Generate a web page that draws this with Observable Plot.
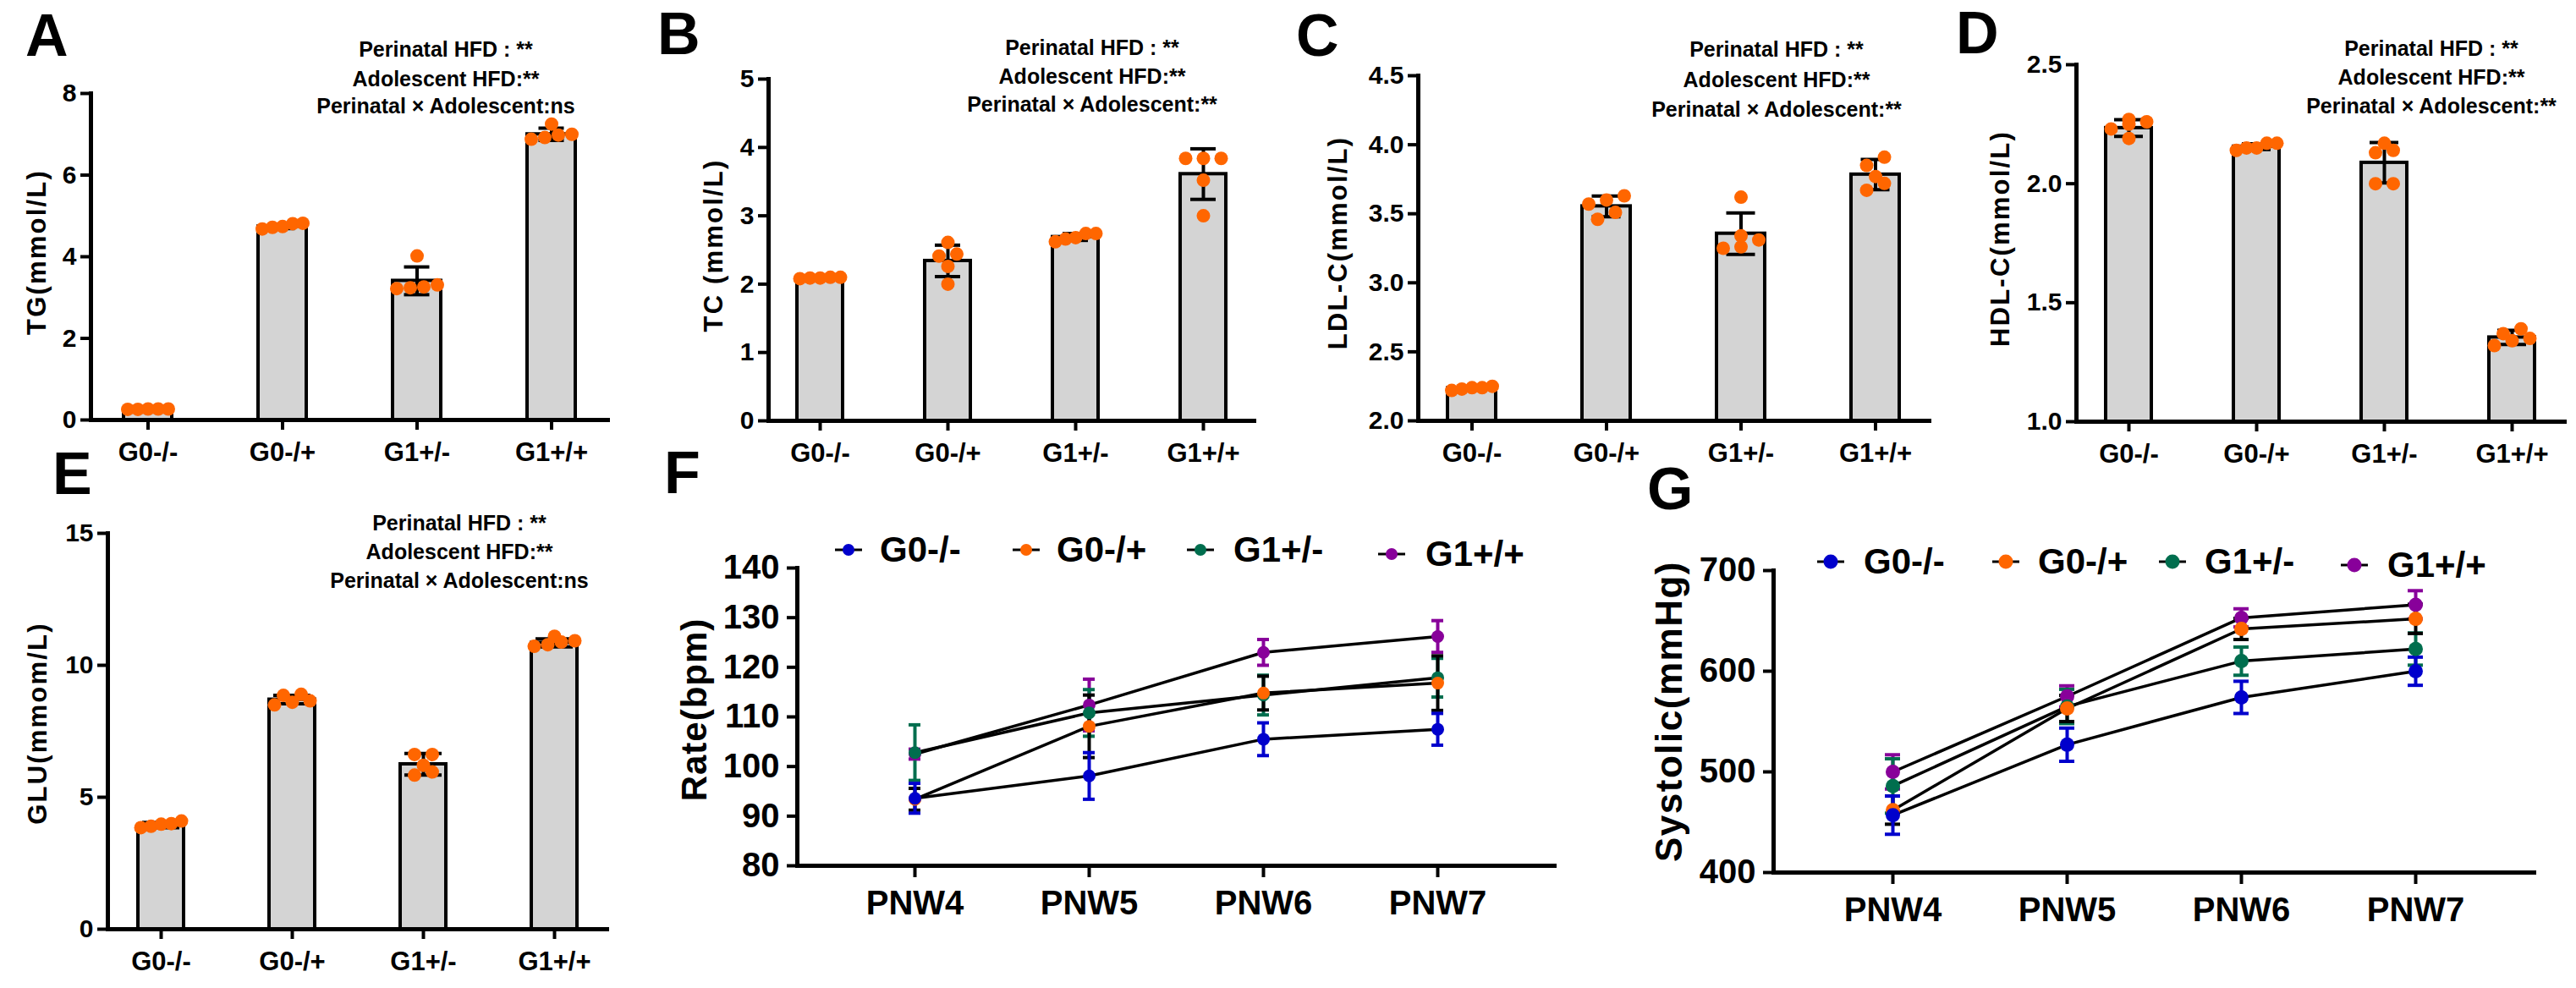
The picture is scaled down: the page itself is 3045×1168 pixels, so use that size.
<!DOCTYPE html>
<html><head><meta charset="utf-8">
<script src="https://cdn.jsdelivr.net/npm/d3@7"></script>
<script src="https://cdn.jsdelivr.net/npm/@observablehq/plot@0.6"></script>
<style>
body{margin:0;background:#fff}
#fig{position:relative;width:3045px;height:1168px;background:#fff;overflow:hidden;font-family:"Liberation Sans",Arial,Helvetica,sans-serif;font-weight:bold;color:#000}
#fig .t{position:absolute;line-height:1;white-space:nowrap}
#fig svg.p{position:absolute}
</style></head><body><div id="fig"></div>
<script>
// ---------- data ----------
const groups = ["G0-/-", "G0-/+", "G1+/-", "G1+/+"];

const tgMean = [0.26, 4.74, 3.41, 7.00];
const tgSD   = [0.01, 0.05, 0.34, 0.15];
const tgDots = [[0.27,0.26,0.27,0.27,0.26],[4.72,4.82,4.74,4.81,4.68],[4.02,3.22,3.31,3.24,3.26],[7.25,7.00,6.92,6.98,6.88]];

const tcMean = [2.09, 2.34, 2.69, 3.61];
const tcSD   = [0.01, 0.23, 0.05, 0.37];
const tcDots = [[2.10,2.09,2.10,2.09,2.08],[2.61,2.44,2.41,2.26,2.00],[2.74,2.68,2.74,2.66,2.62],[3.84,3.84,3.84,3.52,3.00]];

const ldlMean = [2.236, 3.554, 3.356, 3.784];
const ldlSD   = [0.01, 0.075, 0.15, 0.11];
const ldlDots = [[2.23,2.25,2.24,2.24,2.22],[3.60,3.46,3.57,3.63,3.51],[3.62,3.25,3.34,3.26,3.31],[3.91,3.67,3.77,3.85,3.72]];

const hdlMean = [2.234, 2.156, 2.088, 1.354];
const hdlSD   = [0.035, 0.012, 0.085, 0.03];
const hdlDots = [[2.26,2.19,2.27,2.23,2.25],[2.15,2.17,2.15,2.17,2.14],[2.14,2.00,2.17,2.13,2.00],[1.39,1.32,1.37,1.34,1.35]];

const gluMean = [3.95, 8.70, 6.25, 10.85];
const gluSD   = [0.10, 0.16, 0.41, 0.15];
const gluDots = [[3.98,4.10,3.90,4.00,3.85],[8.65,8.90,8.60,8.86,8.50],[6.62,5.84,6.21,6.62,5.96],[10.88,11.10,10.78,10.93,10.72]];

const weeks = ["PNW4", "PNW5", "PNW6", "PNW7"];
const rate_G0mm = [93.6, 98.1, 105.5, 107.5];  const rateSD_G0mm = [3.0, 4.7, 3.3, 3.2];
const rate_G0mp = [93.4, 108.1, 114.8, 116.8]; const rateSD_G0mp = [2.2, 6.3, 3.4, 5.5];
const rate_G1pm = [102.8, 110.8, 114.4, 117.9]; const rateSD_G1pm = [5.6, 4.7, 4.0, 3.9];
const rate_G1pp = [102.5, 112.4, 123.0, 126.2]; const rateSD_G1pp = [1.0, 5.2, 2.6, 3.2];

const sys_G0mm = [457, 527, 574, 600]; const sysSD_G0mm = [19, 16.5, 16, 14];
const sys_G0mp = [462, 563, 642, 652]; const sysSD_G0mp = [14, 13, 10.5, 14.5];
const sys_G1pm = [486, 565, 610, 622]; const sysSD_G1pm = [27, 17, 14, 16];
const sys_G1pp = [500, 575, 653, 666]; const sysSD_G1pp = [17, 10.5, 9, 14];

const seriesColors = ["#0000cc", "#ff6600", "#006e4e", "#88009a"];
const errColors    = ["#0000cc", "#000000", "#006e4e", "#88009a"];

const annot1 = "Perinatal HFD : **";
const annot2 = "Adolescent HFD:**";

// ---------- helpers ----------
const fig = document.getElementById("fig");
const FONT = '"Liberation Sans", Arial, Helvetica, sans-serif';

function txt(str, x, baseline, fs, anchor = "middle") {
  const d = document.createElement("div");
  d.className = "t";
  d.textContent = str;
  const tx = anchor === "middle" ? "-50%" : anchor === "end" ? "-100%" : "0";
  d.style.cssText += `left:${x}px;top:${baseline - 0.8465 * fs}px;font-size:${fs}px;transform:translateX(${tx});`;
  fig.appendChild(d);
}
function vtxt(str, cx, cy, fs, ls = 0) {
  const d = document.createElement("div");
  d.className = "t";
  d.textContent = str;
  d.style.cssText += `left:${cx}px;top:${cy}px;font-size:${fs}px;letter-spacing:${ls}px;transform:translate(-50%,-50%) rotate(-90deg);`;
  fig.appendChild(d);
}
function place(svg, left, top) {
  svg.classList.add("p");
  svg.style.left = left + "px";
  svg.style.top = top + "px";
  fig.appendChild(svg);
}
function layoutDots(dotsArr, ppu) {
  const out = [];
  dotsArr.forEach((vals, i) => {
    const sorted = [...vals].sort((a, b) => a - b);
    let row = [];
    const flush = () => {
      const m = row.length;
      const sp = m > 1 ? Math.min(21, 48 / (m - 1)) : 0;
      row.forEach((v, j) => out.push({g: groups[i], v, off: Math.round((j - (m - 1) / 2) * sp * 10) / 10}));
      row = [];
    };
    sorted.forEach(v => { if (row.length && (v - row[0]) * ppu >= 10) flush(); row.push(v); });
    flush();
  });
  return out;
}

function barPanel(c) {
  const ml = c.axisX - c.left, mr = c.left + c.width - c.axisEnd;
  const mt = c.yTop - c.top, mb = c.top + c.height - c.yBottom;
  const R = c.axisEnd - c.axisX;
  const pi = 1 - c.bw / c.step;
  const po = (R / c.step - groups.length + pi) / 2;
  const rows = groups.map((g, i) => ({g, mean: c.mean[i], sd: c.sd[i]}));
  const ppu = (c.yBottom - c.yTop) / (c.domain[1] - c.domain[0]);
  const dots = layoutDots(c.dots, ppu);
  const offs = [...new Set(dots.map(d => d.off))];
  const ins = (c.bw - c.capW) / 2;
  const base = c.domain[0];
  const svg = Plot.plot({
    width: c.width, height: c.height,
    marginLeft: ml, marginRight: mr, marginTop: mt, marginBottom: mb,
    style: {fontFamily: FONT, fontWeight: "bold", color: "black", overflow: "visible"},
    x: {type: "band", domain: groups, paddingInner: pi, paddingOuter: po, align: 0.5},
    y: {domain: c.domain},
    marks: [
      Plot.barY(rows, {x: "g", y1: base, y2: "mean", fill: "#d4d4d4", stroke: "black", strokeWidth: 4}),
      Plot.ruleX(rows, {x: "g", y1: d => d.mean - d.sd, y2: d => d.mean + d.sd, stroke: "black", strokeWidth: 4}),
      Plot.tickY(rows, {x: "g", y: d => d.mean + d.sd, insetLeft: ins, insetRight: ins, stroke: "black", strokeWidth: 4}),
      Plot.tickY(rows, {x: "g", y: d => d.mean - d.sd, insetLeft: ins, insetRight: ins, stroke: "black", strokeWidth: 4}),
      ...offs.map(o => Plot.dot(dots.filter(d => d.off === o), {x: "g", y: "v", dx: o, r: 8, fill: "#ff6600"})),
      Plot.axisY({ticks: c.ticks, tickFormat: c.fmt, tickSize: 12, tickPadding: 5, fontSize: 30, fontWeight: "bold", strokeWidth: 4, label: null}),
      Plot.axisX({tickSize: 12, tickPadding: 14, fontSize: 31, fontWeight: "bold", strokeWidth: 4, label: null}),
      Plot.frame({anchor: "left", strokeWidth: 5}),
      Plot.frame({anchor: "bottom", strokeWidth: 5})
    ]
  });
  place(svg, c.left, c.top);
}

function linePanel(c) {
  const ml = c.axisX - c.left, mr = c.left + c.width - c.axisEnd;
  const mt = c.yTop - c.top, mb = c.top + c.height - c.yBottom;
  const R = c.axisEnd - c.axisX;
  const pi = 1 - c.capW / c.step;
  const po = (R / c.step - weeks.length + pi) / 2;
  const pts = c.series.map((s, k) => weeks.map((w, i) => ({w, s: s.name, v: s.mean[i], sd: s.sd[i], k})));
  const order = [3, 2, 1, 0]; // later groups drawn first, G0-/- on top
  const marks = [];
  order.forEach(k => {
    const p = pts[k];
    marks.push(Plot.ruleX(p, {x: "w", y1: d => d.v - d.sd, y2: d => d.v + d.sd, stroke: errColors[k], strokeWidth: 4}));
    marks.push(Plot.tickY(p, {x: "w", y: d => d.v + d.sd, stroke: errColors[k], strokeWidth: 4}));
    marks.push(Plot.tickY(p, {x: "w", y: d => d.v - d.sd, stroke: errColors[k], strokeWidth: 4}));
  });
  marks.push(Plot.line(pts.flat(), {x: "w", y: "v", z: "s", stroke: "black", strokeWidth: 3.5}));
  order.forEach(k => marks.push(Plot.dot(pts[k], {x: "w", y: "v", r: c.r, fill: seriesColors[k]})));
  marks.push(
    Plot.axisY({ticks: c.ticks, tickSize: 12, tickPadding: 9, fontSize: 40, fontWeight: "bold", strokeWidth: 4, label: null}),
    Plot.axisX({tickSize: 14, tickPadding: 15, fontSize: 40, fontWeight: "bold", strokeWidth: 4, label: null}),
    Plot.frame({anchor: "left", strokeWidth: 5}),
    Plot.frame({anchor: "bottom", strokeWidth: 5})
  );
  const svg = Plot.plot({
    width: c.width, height: c.height,
    marginLeft: ml, marginRight: mr, marginTop: mt, marginBottom: mb,
    style: {fontFamily: FONT, fontWeight: "bold", color: "black", overflow: "visible"},
    x: {type: "band", domain: weeks, paddingInner: pi, paddingOuter: po, align: 0.5},
    y: {domain: c.domain},
    marks
  });
  place(svg, c.left, c.top);
}

function legend(markX, textX, yc, fs, r, lastDy) {
  groups.forEach((g, i) => {
    const y = yc + (i === 3 ? lastDy : 0);
    const ns = "http://www.w3.org/2000/svg";
    const s = document.createElementNS(ns, "svg");
    s.setAttribute("width", 40); s.setAttribute("height", 30);
    s.style.cssText = `position:absolute;left:${markX[i] - 20}px;top:${y - 15}px;overflow:visible`;
    const ln = document.createElementNS(ns, "line");
    ln.setAttribute("x1", 4); ln.setAttribute("x2", 36); ln.setAttribute("y1", 15); ln.setAttribute("y2", 15);
    ln.setAttribute("stroke", "black"); ln.setAttribute("stroke-width", 3);
    const ci = document.createElementNS(ns, "circle");
    ci.setAttribute("cx", 20); ci.setAttribute("cy", 15); ci.setAttribute("r", r);
    ci.setAttribute("fill", seriesColors[i]);
    s.appendChild(ln); s.appendChild(ci);
    fig.appendChild(s);
    txt(g, textX[i], y + 0.358 * fs, fs, "start");
  });
}

// ---------- panels ----------
const f1 = d3.format(".1f");
barPanel({left: 0, top: 0, width: 740, height: 560, axisX: 107, axisEnd: 718, yTop: 110, yBottom: 496,
  domain: [0, 8], ticks: [0, 2, 4, 6, 8], fmt: d => d, step: 159.3, bw: 57, capW: 30,
  mean: tgMean, sd: tgSD, dots: tgDots});
barPanel({left: 740, top: 0, width: 760, height: 560, axisX: 908, axisEnd: 1482, yTop: 93, yBottom: 497,
  domain: [0, 5], ticks: [0, 1, 2, 3, 4, 5], fmt: d => d, step: 151, bw: 54, capW: 30,
  mean: tcMean, sd: tcSD, dots: tcDots});
barPanel({left: 1500, top: 0, width: 800, height: 560, axisX: 1676, axisEnd: 2280, yTop: 89, yBottom: 497,
  domain: [2, 4.5], ticks: [2, 2.5, 3, 3.5, 4, 4.5], fmt: f1, step: 159.3, bw: 57, capW: 34,
  mean: ldlMean, sd: ldlSD, dots: ldlDots});
barPanel({left: 2300, top: 0, width: 745, height: 560, axisX: 2454, axisEnd: 3031, yTop: 76, yBottom: 498,
  domain: [1, 2.5], ticks: [1, 1.5, 2, 2.5], fmt: f1, step: 151, bw: 54, capW: 34,
  mean: hdlMean, sd: hdlSD, dots: hdlDots});
barPanel({left: 0, top: 560, width: 740, height: 608, axisX: 127, axisEnd: 717, yTop: 630, yBottom: 1098,
  domain: [0, 15], ticks: [0, 5, 10, 15], fmt: d => d, step: 155, bw: 54, capW: 44,
  mean: gluMean, sd: gluSD, dots: gluDots});

linePanel({left: 740, top: 560, width: 1120, height: 608, axisX: 942, axisEnd: 1837, yTop: 671, yBottom: 1023,
  domain: [80, 140], ticks: [80, 90, 100, 110, 120, 130, 140], step: 206, capW: 14, r: 7.5,
  series: [
    {name: groups[0], mean: rate_G0mm, sd: rateSD_G0mm},
    {name: groups[1], mean: rate_G0mp, sd: rateSD_G0mp},
    {name: groups[2], mean: rate_G1pm, sd: rateSD_G1pm},
    {name: groups[3], mean: rate_G1pp, sd: rateSD_G1pp}]});
linePanel({left: 1880, top: 560, width: 1165, height: 608, axisX: 2096, axisEnd: 2995, yTop: 674, yBottom: 1031,
  domain: [400, 700], ticks: [400, 500, 600, 700], step: 206, capW: 18, r: 8.5,
  series: [
    {name: groups[0], mean: sys_G0mm, sd: sysSD_G0mm},
    {name: groups[1], mean: sys_G0mp, sd: sysSD_G0mp},
    {name: groups[2], mean: sys_G1pm, sd: sysSD_G1pm},
    {name: groups[3], mean: sys_G1pp, sd: sysSD_G1pp}]});

// ---------- texts ----------
txt("A", 30, 66, 70, "start");
txt("B", 777, 64, 70, "start");
txt("C", 1532, 66, 70, "start");
txt("D", 2312, 63, 70, "start");
txt("E", 62, 584, 70, "start");
txt("F", 785, 583, 70, "start");
txt("G", 1947, 602, 70, "start");

function annot(cx, b1, b2, b3, third) {
  txt(annot1, cx, b1, 25);
  txt(annot2, cx, b2, 25);
  txt(third, cx, b3, 25);
}
annot(527, 67, 102, 134, "Perinatal \u00d7 Adolescent:ns");
annot(1291, 65, 99, 132, "Perinatal \u00d7 Adolescent:**");
annot(2100, 67, 103, 138, "Perinatal \u00d7 Adolescent:**");
annot(2874, 66, 100, 134, "Perinatal \u00d7 Adolescent:**");
annot(543, 627, 661, 695, "Perinatal \u00d7 Adolescent:ns");

vtxt("TG(mmol/L)", 43, 298, 31, 2.2);
vtxt("TC (mmol/L)", 843, 290, 31, 2.2);
vtxt("LDL-C(mmol/L)", 1581, 287, 31, 2.2);
vtxt("HDL-C(mmol/L)", 2364, 282, 31, 2.2);
vtxt("GLU(mmom/L)", 44, 855, 31, 2.2);
vtxt("Rate(bpm)", 821, 839, 42, 1);
vtxt("Systolic(mmHg)", 1973, 841, 44, 1.5);

legend([1003, 1213, 1419, 1645], [1040, 1249, 1458, 1685], 650, 42, 7, 5);
legend([2164, 2371, 2568, 2783], [2203, 2409, 2606, 2822], 664, 42, 8.5, 4);
</script></body></html>
